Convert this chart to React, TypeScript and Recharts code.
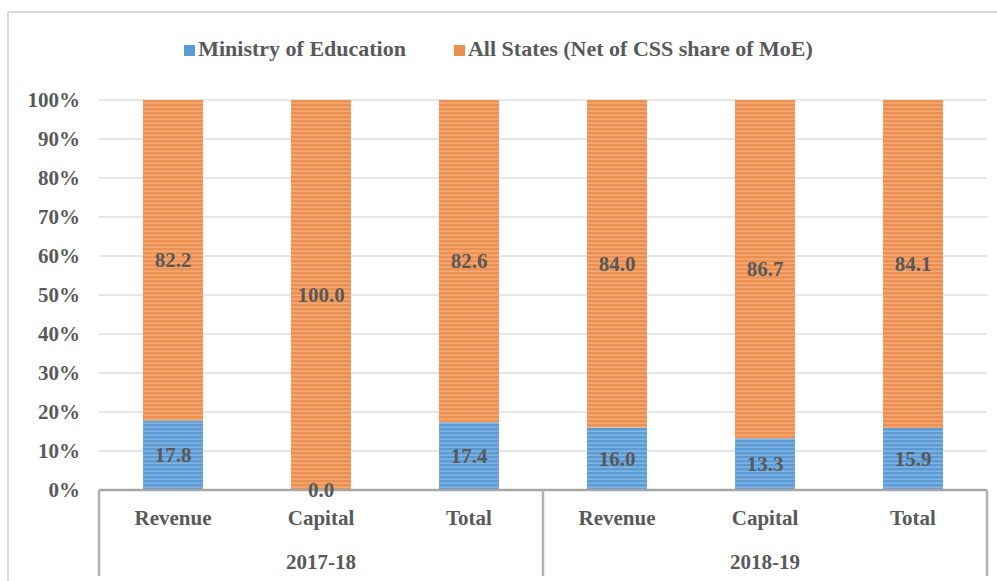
import React from 'react';
import { BarChart, Bar, XAxis, YAxis, CartesianGrid, Legend, LabelList } from 'recharts';

const categories = ['Revenue', 'Capital', 'Total', 'Revenue', 'Capital', 'Total'];
const years = ['2017-18', '2017-18', '2017-18', '2018-19', '2018-19', '2018-19'];
const moeShare = [17.8, 0.0, 17.4, 16.0, 13.3, 15.9];
const statesShare = [82.2, 100.0, 82.6, 84.0, 86.7, 84.1];
const yTicks = [0, 10, 20, 30, 40, 50, 60, 70, 80, 90, 100];

const seriesNames = ['Ministry of Education', 'All States (Net of CSS share of MoE)'];

const data = categories.map((c, i) => ({
    id: i,
    name: c,
    year: years[i],
    moe: moeShare[i],
    states: statesShare[i],
}));

const W = 997;
const H = 581;
const PLOT_LEFT = 99;
const PLOT_RIGHT = 987;
const BAND = (PLOT_RIGHT - PLOT_LEFT) / categories.length;

const TEXT = '#595959';
const FONT = 'Liberation Serif, Times New Roman, serif';
const FS = 21;

const XTick = (props: any) => {
    const { x, y, payload } = props;
    const i = payload.value as number;
    const row = data[i];
    const groupStart = i % 3 === 0;
    const groupMid = i % 3 === 1;
    const last = i === data.length - 1;
    return (
        <g>
            <text x={x} y={y + 35} textAnchor="middle" fill={TEXT} fontFamily={FONT} fontWeight="bold" fontSize={FS}>
                {row.name}
            </text>
            {groupMid && (
                <text x={x} y={y + 79} textAnchor="middle" fill={TEXT} fontFamily={FONT} fontWeight="bold" fontSize={FS}>
                    {row.year}
                </text>
            )}
            {groupStart && (
                <line x1={x - BAND / 2} x2={x - BAND / 2} y1={y} y2={y + 86} stroke="#b3b3b3" strokeWidth={2.5} />
            )}
            {last && (
                <line x1={x + BAND / 2} x2={x + BAND / 2} y1={y} y2={y + 86} stroke="#b3b3b3" strokeWidth={2.5} />
            )}
        </g>
    );
};

const LegendContent = () => (
    <div style={{ display: 'flex', justifyContent: 'center', fontFamily: FONT, fontWeight: 'bold', fontSize: 22, color: TEXT, lineHeight: '24px' }}>
        <span style={{ display: 'flex', alignItems: 'center', marginRight: 48 }}>
            <span style={{ width: 11, height: 11, background: '#5B9BD5', marginRight: 3, marginTop: 3 }} />
            {seriesNames[0]}
        </span>
        <span style={{ display: 'flex', alignItems: 'center' }}>
            <span style={{ width: 11, height: 11, background: '#ED8D4C', marginRight: 3, marginTop: 3 }} />
            {seriesNames[1]}
        </span>
    </div>
);

const labelText = (x: number, y: number, v: number, key?: string) => (
    <text
        key={key}
        x={x}
        y={y}
        dy={7}
        textAnchor="middle"
        fill={TEXT}
        fontFamily={FONT}
        fontWeight="bold"
        fontSize={FS}
    >
        {v.toFixed(1)}
    </text>
);

const ValueLabel = (props: any) => {
    const { x, y, width, height, value } = props;
    if (value == null || Number(value) === 0) return null;
    return labelText(x + width / 2, y + height / 2, Number(value));
};

// zero-height MoE segments get no label from recharts, so draw them at the foot of the states bar
const StatesLabel = (props: any) => {
    const { x, y, width, height, value, index } = props;
    if (value == null) return null;
    const row = data[index];
    return (
        <g>
            {labelText(x + width / 2, y + height / 2, Number(value), 'a')}
            {row && row.moe === 0 && labelText(x + width / 2, y + height, row.moe, 'b')}
        </g>
    );
};

export default function App() {
    return (
        <div style={{ position: 'absolute', left: 0, top: 0, width: W, height: H, background: '#fff' }}>
            <div
                style={{
                    position: 'absolute',
                    left: 7,
                    top: 11,
                    width: W,
                    height: H,
                    borderLeft: '2px solid #d9d9d9',
                    borderTop: '2px solid #d9d9d9',
                }}
            />
            <BarChart
                width={W}
                height={H}
                data={data}
                margin={{ top: 76, right: W - PLOT_RIGHT, bottom: 6, left: 0 }}
                barSize={60}
            >
                <defs>
                    <pattern id="stripeBlue" width="8" height="4" patternUnits="userSpaceOnUse">
                        <rect width="8" height="4" fill="#5B9BD5" />
                        <rect y="2.5" width="8" height="1.3" fill="#8BB9E3" />
                    </pattern>
                    <pattern id="stripeOrange" width="8" height="4" patternUnits="userSpaceOnUse">
                        <rect width="8" height="4" fill="#EE8F4F" />
                        <rect y="2.5" width="8" height="1.3" fill="#F5AF80" />
                    </pattern>
                </defs>
                <CartesianGrid vertical={false} stroke="#dedede" strokeWidth={1.5} />
                <Legend
                    verticalAlign="top"
                    height={24}
                    content={<LegendContent />}
                    wrapperStyle={{ top: 37, left: 0, width: W }}
                />
                <XAxis
                    dataKey="id"
                    type="category"
                    height={85}
                    tickSize={0}
                    tickMargin={0}
                    tick={<XTick />}
                    axisLine={{ stroke: '#a6a6a6', strokeWidth: 2.5 }}
                    tickLine={false}
                    interval={0}
                />
                <YAxis
                    width={PLOT_LEFT}
                    domain={[0, 100]}
                    ticks={yTicks}
                    tickFormatter={(v) => `${v}%`}
                    axisLine={false}
                    tickLine={false}
                    tickSize={0}
                    tickMargin={19}
                    tick={{ fill: TEXT, fontFamily: FONT, fontWeight: 'bold', fontSize: FS }}
                />
                <Bar dataKey="moe" stackId="s" fill="url(#stripeBlue)" isAnimationActive={false}>
                    <LabelList dataKey="moe" content={<ValueLabel />} />
                </Bar>
                <Bar dataKey="states" stackId="s" fill="url(#stripeOrange)" isAnimationActive={false}>
                    <LabelList dataKey="states" content={<StatesLabel />} />
                </Bar>
            </BarChart>
        </div>
    );
}
